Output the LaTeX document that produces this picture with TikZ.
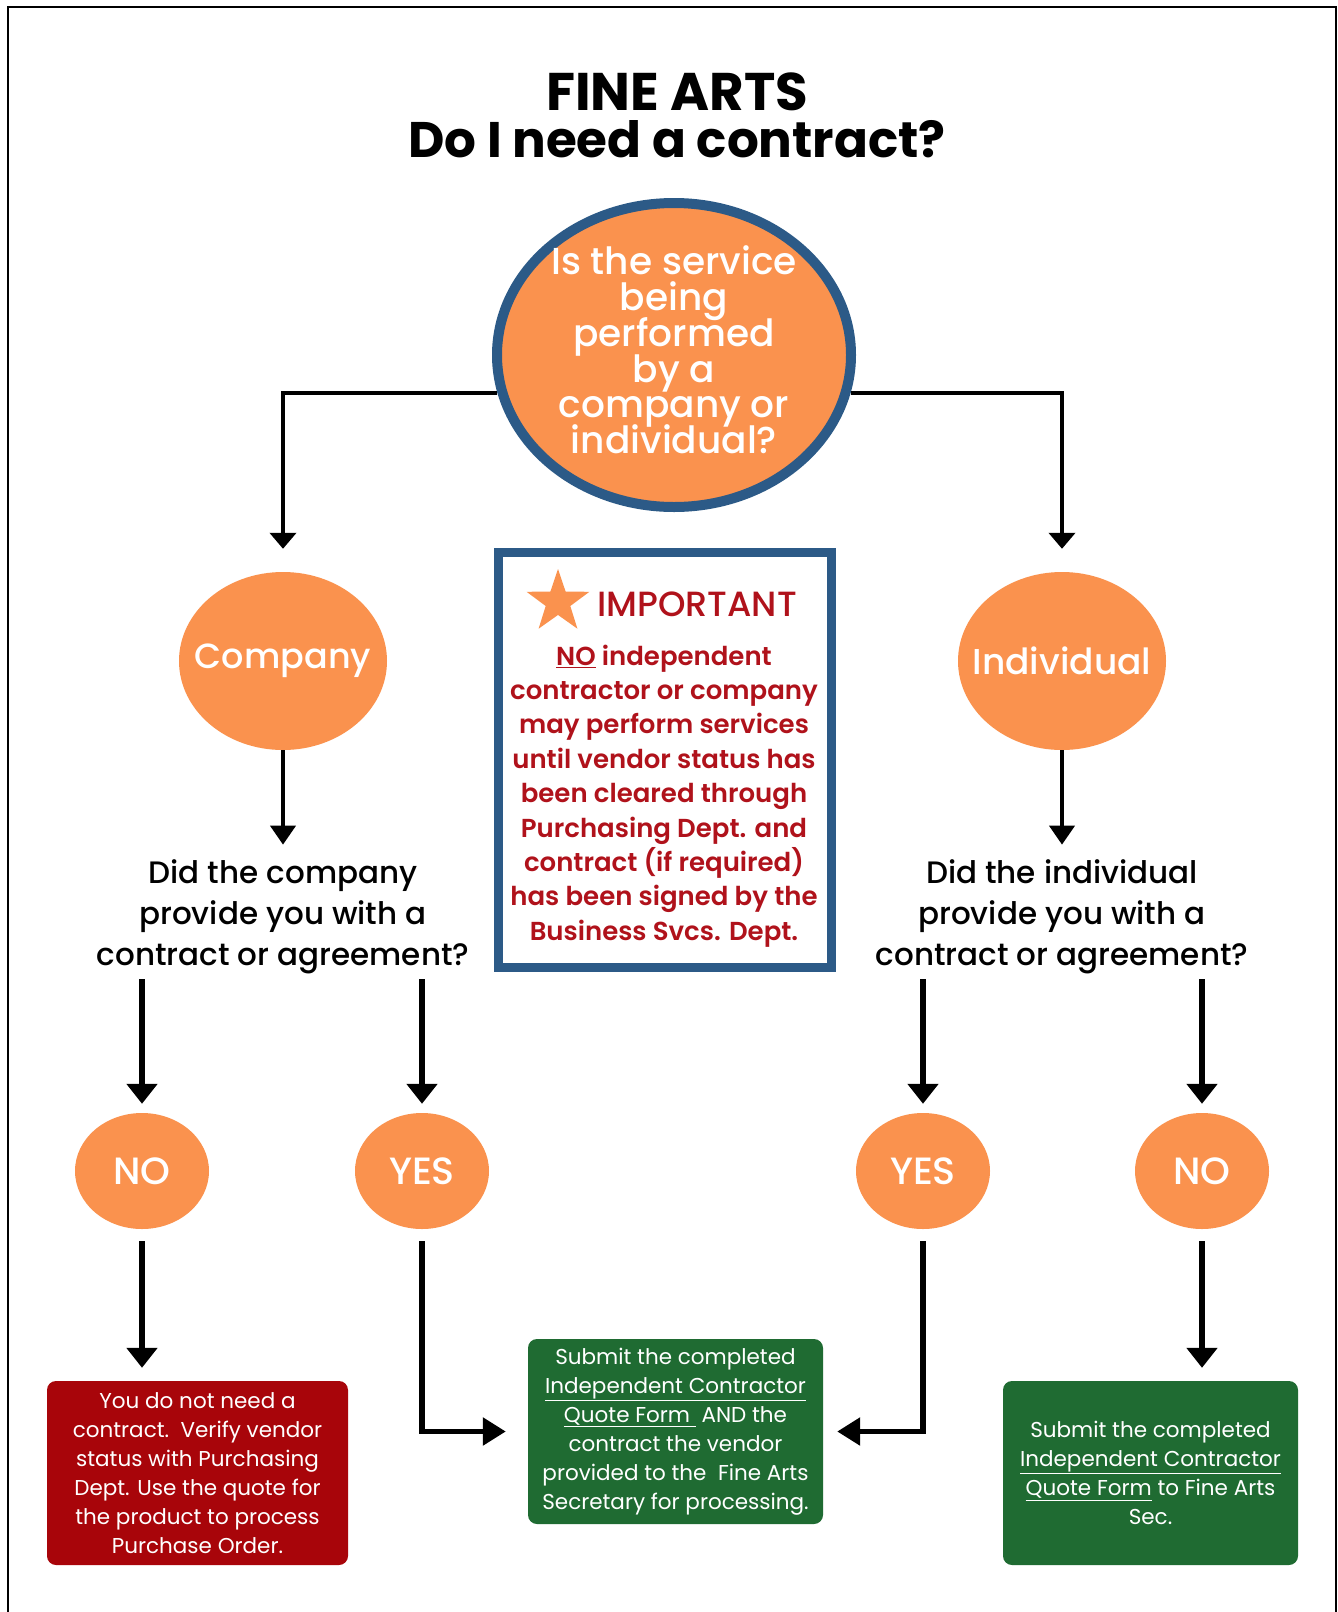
\documentclass[tikz,border=0pt]{standalone}
\usepackage{fontspec}
\setmainfont{Poppins}
\newfontfamily\pmed{Poppins Medium}
\newfontfamily\psemi{Poppins SemiBold}
\usetikzlibrary{shapes.geometric,arrows.meta}
\newcommand\mytightlines{\lineskiplimit=-100pt\relax\lineskip=0pt\relax}
\definecolor{orng}{RGB}{250,146,78}
\definecolor{bluebd}{RGB}{44,90,135}
\definecolor{redtxt}{RGB}{176,18,27}
\definecolor{redbox}{RGB}{168,5,10}
\definecolor{grnbox}{RGB}{31,107,50}
\tikzset{
  oval/.style={ellipse, fill=orng, draw=none, inner sep=0pt, text=white},
  thinarr/.style={draw=black, line width=4pt, -{Triangle[width=26pt,length=16pt]}},
  thickarr/.style={draw=black, line width=5.5pt, -{Triangle[width=30pt,length=20pt]}},
  outbox/.style={rounded corners=9pt, inner sep=0pt, text=white, align=center,
    font=\fontsize{21.5}{29}\selectfont},
  question/.style={inner sep=0pt, align=center, font=\pmed\fontsize{31}{41}\selectfont},
  ovaltext/.style={text=white, inner sep=0pt, font=\pmed\fontsize{#1}{#1}\selectfont},
}
\begin{document}
\begin{tikzpicture}[x=1pt,y=-1pt]
\useasboundingbox (0,0) rectangle (1338,1612);
\fill[white] (0,0) rectangle (1338,1612);
\draw[line width=2pt] (8,1614) -- (8,7) -- (1336,7) -- (1336,1614);

% title
\node[font=\bfseries\fontsize{50}{47}\selectfont, align=center] (title) at (677,115)
  {{\fontsize{53}{47}\selectfont FINE ARTS}\\Do I need a contract?};

% top question
\node[oval, draw=bluebd, line width=10pt, minimum width=354pt, minimum height=304pt] (q) at (674,355) {};
\node[text=white, align=center, font=\pmed\fontsize{37.5}{35.8}\selectfont\mytightlines, inner sep=0pt] (qtext) at (674,350)
  {Is the service\\being\\performed\\by a\\company or\\individual?};

% second level
\node[oval, minimum width=208pt, minimum height=178pt, label={[ovaltext=35]center:Company}] (comp) at (283,661) {};
\node[oval, minimum width=208pt, minimum height=178pt, label={[ovaltext=36]center:Individual}] (indiv) at (1062,661) {};

\draw[thinarr, shorten >=23pt] (q.192) -| (comp.north);
\draw[thinarr, shorten >=23pt] (q.-12) -| (indiv.north);

% important box
\node[draw=bluebd, line width=9pt, fill=white, minimum width=333pt, minimum height=415pt, inner sep=0pt] (imp) at (665,760) {};
\node[star, star points=5, star point ratio=2.55, fill=orng, minimum size=66pt, inner sep=0pt] (star) at (558,602) {};
\node[text=redtxt, anchor=west, font=\pmed\fontsize{35}{36}\selectfont, inner sep=0pt] (impt) at (597,604) {IMPORTANT};
\node[text=redtxt, align=center, font=\psemi\fontsize{26}{34.4}\selectfont, inner sep=0pt] (imptext) at (664,796)
  {\underline{NO} independent\\contractor or company\\may perform services\\until vendor status has\\been cleared through\\Purchasing Dept. and\\contract (if required)\\has been signed by the\\Business Svcs. Dept.};

% questions
\node[question] (qc) at (283,917) {Did the company\\provide you with a\\contract or agreement?};
\node[question] (qi) at (1062,917) {Did the individual\\provide you with a\\contract or agreement?};

\draw[thinarr, -{Triangle[width=25pt,length=19pt]}, shorten >=15pt] (comp.south) -- (comp.south |- qc.north);
\draw[thinarr, -{Triangle[width=25pt,length=19pt]}, shorten >=15pt] (indiv.south) -- (indiv.south |- qi.north);

% yes/no
\node[oval, minimum width=134pt, minimum height=116pt, label={[ovaltext=38]center:NO}] (nol) at (142,1171) {};
\node[oval, minimum width=134pt, minimum height=116pt, label={[ovaltext=38]center:YES}] (yesl) at (422,1171) {};
\node[oval, minimum width=134pt, minimum height=116pt, label={[ovaltext=38]center:YES}] (yesr) at (923,1171) {};
\node[oval, minimum width=134pt, minimum height=116pt, label={[ovaltext=38]center:NO}] (nor) at (1202,1171) {};

\draw[thickarr, shorten >=9pt, shorten <=5pt] (qc.south -| nol) -- (nol.north);
\draw[thickarr, shorten >=9pt, shorten <=5pt] (qc.south -| yesl) -- (yesl.north);
\draw[thickarr, shorten >=9pt, shorten <=5pt] (qi.south -| yesr) -- (yesr.north);
\draw[thickarr, shorten >=9pt, shorten <=5pt] (qi.south -| nor) -- (nor.north);

% outcome boxes
\node[outbox, fill=redbox, minimum width=301pt, minimum height=184pt] (rbox) at (197.5,1473)
  {You do not need a\\contract.\ \ Verify vendor\\status with Purchasing\\Dept. Use the quote for\\the product to process\\Purchase Order.};
\node[outbox, fill=grnbox, minimum width=295pt, minimum height=185pt] (gc) at (675.5,1431.5)
  {Submit the completed\\\underline{Independent Contractor}\\\underline{Quote Form\ } AND the\\contract the vendor\\provided to the\ \ Fine Arts\\Secretary for processing.};
\node[outbox, fill=grnbox, minimum width=295pt, minimum height=184pt] (gr) at (1150.5,1473)
  {Submit the completed\\\underline{Independent Contractor}\\\underline{Quote Form} to Fine Arts\\Sec.};

\draw[thickarr, shorten <=12pt, shorten >=13pt] (nol.south) -- (nol.south |- rbox.north);
\draw[thickarr, -{Triangle[width=27pt,length=23pt]}, shorten <=12pt, shorten >=22pt] (yesl.south) |- (gc.west);
\draw[thickarr, -{Triangle[width=27pt,length=23pt]}, shorten <=12pt, shorten >=14pt] (yesr.south) |- (gc.east);
\draw[thickarr, shorten <=12pt, shorten >=13pt] (nor.south) -- (nor.south |- gr.north);
\end{tikzpicture}
\end{document}
